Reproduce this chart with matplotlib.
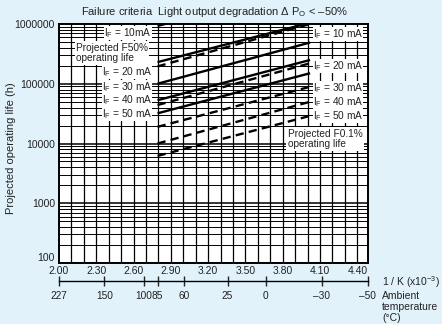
import numpy as np
import matplotlib
matplotlib.use("Agg")
import matplotlib.pyplot as plt
from matplotlib.ticker import FixedLocator, NullFormatter

plt.rcParams['font.family'] = ['Liberation Sans', 'DejaVu Sans']
plt.rcParams['mathtext.fontset'] = 'custom'
plt.rcParams['mathtext.rm'] = 'Liberation Sans'
plt.rcParams['mathtext.it'] = 'Liberation Sans:italic'

# ---- data ----
x_range = [2.793, 4.02]                      # 1/K (x10^-3): 85 C to about -24 C
currents = ["10", "20", "30", "40", "50"]
f50_start = [9.3e5, 2.3e5, 1.0e5, 5.3e4, 3.2e4]      # solid, projected F50%
f50_end = [4.0e6, 1.05e6, 4.9e5, 2.5e5, 1.5e5]
f01_start = [1.95e5, 4.4e4, 1.9e4, 1.0e4, 6.2e3]     # dashed, projected F0.1%
f01_end = [1.0e6, 2.2e5, 8.9e4, 5.0e4, 2.9e4]
xtick_vals = [2.00, 2.30, 2.60, 2.90, 3.20, 3.50, 3.80, 4.10, 4.40]
ytick_vals = [100, 1000, 10000, 100000, 1000000]
temps_c = [227, 150, 100, 85, 60, 25, 0, -30, -50]

W, H = 442, 324
fig = plt.figure(figsize=(W / 100, H / 100), dpi=100)
fig.patch.set_facecolor('#e1f2fb')
L, R, T, B = 59, 368.5, 24, 263
ax = fig.add_axes([L / W, 1 - B / H, (R - L) / W, (B - T) / H])
ax.set_facecolor('white')
ax.set_yscale('log')
ax.set_xlim(2.0, 4.49)
ax.set_ylim(100, 1e6)

# grid
for xv in np.arange(2.1, 4.45, 0.1):
    ax.axvline(xv, color='black', lw=0.9, zorder=1)
for dec in [100, 1000, 10000, 100000]:
    for m in range(1, 10):
        yv = dec * m
        ax.axhline(yv, color='black', lw=1.1 if m == 1 else 0.7, zorder=1)

# lines
for s, e in zip(f50_start, f50_end):
    ax.plot(x_range, [s, e], color='black', lw=1.7, solid_capstyle='butt', zorder=3)
for s, e in zip(f01_start, f01_end):
    ax.plot(x_range, [s, e], color='black', lw=1.7, ls=(0, (3.5, 2.2)),
            dash_capstyle='butt', zorder=3)

for sp in ax.spines.values():
    sp.set_linewidth(1.4)

ax.xaxis.set_major_locator(FixedLocator(xtick_vals))
ax.set_xticklabels([f"{v:.2f}" for v in xtick_vals])
ax.yaxis.set_major_locator(FixedLocator(ytick_vals))
ax.yaxis.set_minor_locator(FixedLocator([]))
ax.set_yticklabels([str(v) for v in ytick_vals])
ax.tick_params(axis='both', length=0, labelsize=7.5, colors='#222222')
ax.tick_params(axis='x', pad=2)
ax.tick_params(axis='y', pad=3)
ax.yaxis.set_minor_formatter(NullFormatter())
ax.get_yticklabels()[0].set_va('bottom')

# temperature axis
sec = ax.secondary_xaxis((B - 281) / (B - T))
sec.spines['bottom'].set_linewidth(1.0)
sec.set_xticks([1000.0 / (t + 273) for t in temps_c])
sec.set_xticklabels([str(t).replace('-', '–') for t in temps_c])
sec.tick_params(axis='x', direction='inout', length=7, width=1.0,
                labelsize=7.3, colors='#222222', pad=4)

def ax_frac(px, py):
    return (px - L) / (R - L), (B - py) / (B - T)

box = dict(facecolor='white', edgecolor='none', pad=0.1)
lab_fs = 7.3
left_y = [33, 72, 87, 100.5, 114]
right_y = [34, 66, 88, 102, 116]
for i, c in enumerate(currents):
    sep = "" if i == 0 else " "
    fx, fy = ax_frac(152, left_y[i])
    ax.text(fx, fy, f"I$_\\mathrm{{F}}$ = {c}{sep}mA", transform=ax.transAxes,
            ha='right', va='center', fontsize=lab_fs, color='#222222', bbox=box, zorder=4)
    fx, fy = ax_frac(313, right_y[i])
    ax.text(fx, fy, f"I$_\\mathrm{{F}}$ = {c} mA", transform=ax.transAxes,
            ha='left', va='center', fontsize=lab_fs, color='#222222', bbox=box, zorder=4)

fx, fy = ax_frac(76, 53)
ax.text(fx, fy, "Projected F50%\noperating life", transform=ax.transAxes,
        ha='left', va='center', fontsize=lab_fs, color='#222222', linespacing=1.1,
        bbox=dict(facecolor='white', edgecolor='none', pad=0.8), zorder=4)
fx, fy = ax_frac(288, 139)
ax.text(fx, fy, "Projected F0.1%\noperating life", transform=ax.transAxes,
        ha='left', va='center', fontsize=lab_fs, color='#222222', linespacing=1.1,
        bbox=dict(facecolor='white', edgecolor='none', pad=1.2), zorder=4)

fig.text(214 / W, 1 - 12 / H,
         "Failure criteria  Light output degradation Δ P$_\\mathrm{O}$ < –50%",
         ha='center', va='center', fontsize=8, color='#222222')
fig.text(11 / W, 1 - 148 / H, "Projected operating life (h)", rotation=90,
         ha='center', va='center', fontsize=8, color='#222222')
fig.text(382 / W, 1 - 282 / H, "1 / K (x10$^{-3}$)", ha='left', va='center',
         fontsize=7.5, color='#222222')
fig.text(382 / W, 1 - 291 / H, "Ambient\ntemperature\n(°C)", ha='left', va='top',
         fontsize=7.5, color='#222222', linespacing=1.15)

fig.savefig("out.png", dpi=100, facecolor=fig.get_facecolor())
